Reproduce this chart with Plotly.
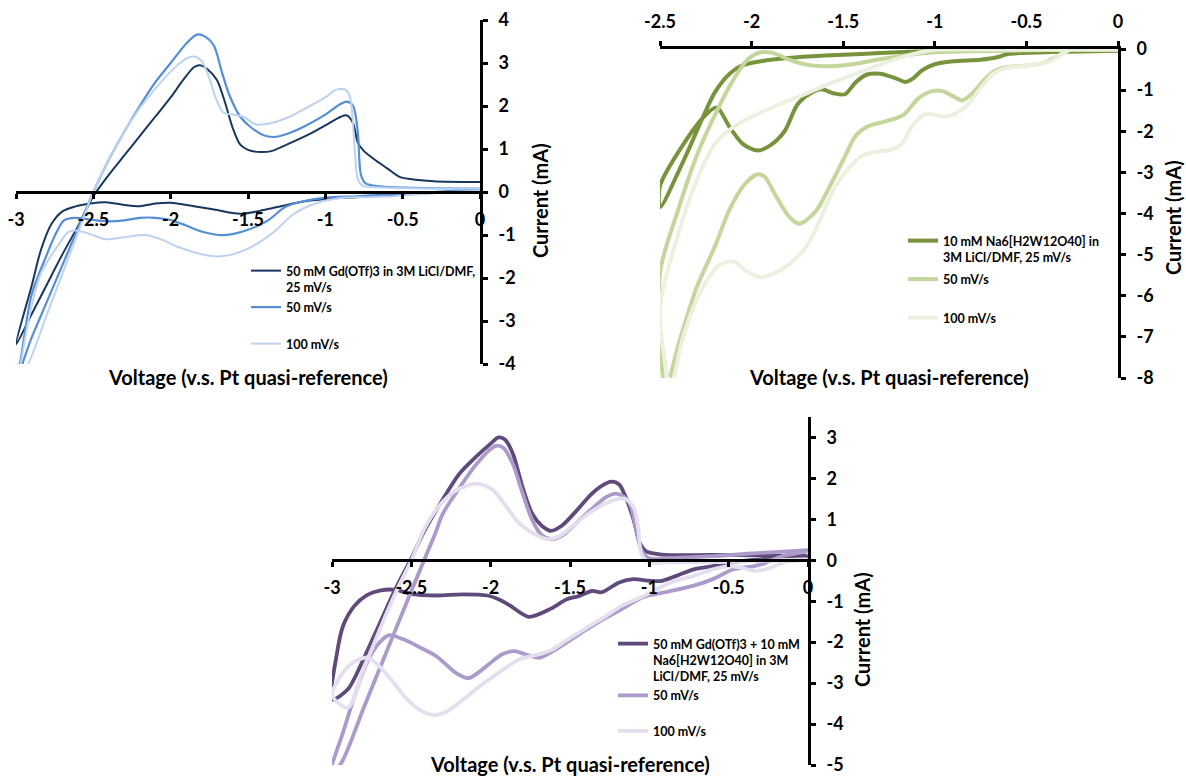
import plotly.graph_objects as go

# ---------------- Panel 1: 50 mM Gd(OTf)3 in 3M LiCl/DMF ----------------
gd25_v = [0.0, -0.2, -0.4, -0.6, -0.8, -0.95, -1.1, -1.25, -1.4, -1.52, -1.6, -1.7, -1.85, -2.0, -2.1, -2.2, -2.3, -2.42, -2.52, -2.62, -2.7, -2.77, -2.84, -2.9, -3.0,
          -2.9, -2.8, -2.7, -2.6, -2.5, -2.4, -2.3, -2.2, -2.1, -2.0, -1.92, -1.85, -1.81, -1.76, -1.7, -1.65, -1.6, -1.55, -1.5, -1.42, -1.35, -1.25, -1.1, -1.0, -0.9, -0.86, -0.82, -0.79, -0.75, -0.68, -0.6, -0.52, -0.45, -0.3, 0.0]
gd25_i = [0.0, -0.01, -0.04, -0.08, -0.12, -0.15, -0.2, -0.3, -0.42, -0.5, -0.49, -0.42, -0.33, -0.25, -0.27, -0.33, -0.3, -0.24, -0.27, -0.34, -0.45, -0.74, -1.36, -2.2, -3.55,
          -2.85, -2.15, -1.45, -0.8, -0.1, 0.4, 0.85, 1.3, 1.75, 2.2, 2.6, 2.9, 2.95, 2.85, 2.6, 2.1, 1.5, 1.1, 0.98, 0.93, 0.95, 1.1, 1.35, 1.55, 1.75, 1.78, 1.6, 1.15, 0.95, 0.75, 0.55, 0.35, 0.3, 0.25, 0.23]

gd50_v = [0.0, -0.2, -0.4, -0.6, -0.8, -1.0, -1.15, -1.26, -1.37, -1.5, -1.6, -1.69, -1.8, -1.9, -2.0, -2.1, -2.2, -2.3, -2.42, -2.52, -2.62, -2.69, -2.74, -2.8, -2.9, -2.97, -3.0,
          -2.9, -2.8, -2.7, -2.6, -2.5, -2.4, -2.3, -2.2, -2.1, -2.0, -1.9, -1.83, -1.78, -1.72, -1.67, -1.62, -1.55, -1.48, -1.4, -1.33, -1.25, -1.14, -1.0, -0.9, -0.86, -0.82, -0.79, -0.77, -0.74, -0.65, -0.5, 0.0]
gd50_i = [0.05, 0.02, -0.02, -0.06, -0.1, -0.13, -0.22, -0.35, -0.66, -0.88, -0.98, -1.0, -0.92, -0.78, -0.65, -0.6, -0.6, -0.66, -0.68, -0.64, -0.6, -0.66, -0.95, -1.45, -2.4, -3.9, -4.4,
          -3.4, -2.55, -1.7, -0.85, 0.0, 0.75, 1.4, 2.0, 2.55, 3.0, 3.45, 3.66, 3.62, 3.4, 2.8, 2.25, 1.75, 1.5, 1.32, 1.28, 1.35, 1.52, 1.8, 2.05, 2.1, 2.0, 1.4, 0.4, 0.2, 0.13, 0.1, 0.08]

gd100_v = [0.0, -0.2, -0.4, -0.56, -0.75, -0.9, -1.05, -1.2, -1.34, -1.48, -1.6, -1.69, -1.8, -1.95, -2.05, -2.16, -2.3, -2.42, -2.52, -2.6, -2.66, -2.72, -2.84, -2.92, -2.97, -3.0,
           -2.92, -2.8, -2.7, -2.6, -2.5, -2.4, -2.3, -2.2, -2.1, -2.0, -1.9, -1.85, -1.8, -1.75, -1.71, -1.66, -1.6, -1.53, -1.45, -1.38, -1.25, -1.1, -1.0, -0.93, -0.87, -0.84, -0.81, -0.79, -0.76, -0.6, 0.0]
gd100_i = [0.03, 0.0, -0.05, -0.1, -0.12, -0.14, -0.25, -0.5, -0.95, -1.28, -1.45, -1.5, -1.45, -1.28, -1.12, -1.0, -1.05, -1.1, -0.98, -0.9, -0.93, -1.2, -1.9, -3.0, -4.0, -4.5,
           -4.0, -2.85, -1.9, -0.95, 0.0, 0.75, 1.4, 1.95, 2.4, 2.8, 3.1, 3.15, 3.05, 2.65, 2.2, 1.85, 1.8, 1.75, 1.57, 1.58, 1.72, 2.0, 2.2, 2.38, 2.38, 2.2, 1.0, 0.3, 0.15, 0.1, 0.08]

# ---------------- Panel 2: 10 mM Na6[H2W12O40] in 3M LiCl/DMF ----------------
pw25_v = [0.0, -0.2, -0.4, -0.6, -0.66, -0.75, -0.9, -1.0, -1.07, -1.12, -1.16, -1.22, -1.3, -1.37, -1.43, -1.49, -1.55, -1.62, -1.68, -1.75, -1.82, -1.9, -1.97, -2.05, -2.12, -2.19, -2.25, -2.37, -2.5,
          -2.5, -2.37, -2.27, -2.2, -2.12, -2.05, -1.95, -1.8, -1.6, -1.4, -1.2, -1.0, -0.6, 0.0]
pw25_i = [-0.04, -0.06, -0.08, -0.12, -0.2, -0.26, -0.3, -0.37, -0.52, -0.72, -0.8, -0.7, -0.6, -0.62, -0.8, -1.1, -1.08, -0.98, -1.08, -1.35, -2.0, -2.35, -2.47, -2.3, -1.9, -1.42, -1.6, -2.3, -3.33,
          -3.85, -2.7, -1.7, -1.05, -0.6, -0.4, -0.3, -0.22, -0.16, -0.12, -0.08, -0.05, -0.03, -0.02]

pw50_v = [0.0, -0.25, -0.32, -0.4, -0.5, -0.62, -0.68, -0.74, -0.8, -0.85, -0.9, -0.96, -1.02, -1.09, -1.17, -1.27, -1.36, -1.43, -1.5, -1.58, -1.65, -1.74, -1.8, -1.87, -1.93, -1.97, -2.04, -2.12, -2.2, -2.3, -2.4, -2.47,
          -2.5, -2.4, -2.3, -2.2, -2.1, -2.02, -1.95, -1.88, -1.8, -1.7, -1.6, -1.45, -1.3, -1.15, -1.0, -0.7, -0.3, 0.0]
pw50_i = [-0.02, 0.0, -0.15, -0.33, -0.4, -0.45, -0.55, -0.8, -1.1, -1.25, -1.15, -1.02, -1.03, -1.2, -1.6, -1.76, -1.87, -2.1, -2.7, -3.4, -3.95, -4.25, -4.05, -3.55, -3.1, -3.05, -3.3, -3.9, -4.8, -5.8, -7.2, -8.3,
          -5.45, -3.9, -2.6, -1.6, -0.75, -0.25, -0.08, -0.1, -0.25, -0.38, -0.42, -0.37, -0.25, -0.15, -0.08, -0.05, -0.02, -0.02]

pw100_v = [0.0, -0.26, -0.32, -0.37, -0.5, -0.62, -0.68, -0.75, -0.82, -0.88, -0.94, -1.0, -1.05, -1.12, -1.18, -1.24, -1.32, -1.4, -1.47, -1.55, -1.62, -1.7, -1.8, -1.9, -1.95, -2.03, -2.09, -2.15, -2.2, -2.3, -2.38, -2.44,
           -2.5, -2.4, -2.3, -2.2, -2.1, -2.0, -1.85, -1.7, -1.55, -1.4, -1.25, -1.1, -1.0, -0.5, 0.0]
pw100_i = [-0.02, -0.02, -0.15, -0.3, -0.4, -0.47, -0.6, -0.95, -1.35, -1.55, -1.65, -1.6, -1.58, -1.85, -2.3, -2.45, -2.5, -2.6, -2.9, -3.4, -4.1, -4.8, -5.25, -5.5, -5.55, -5.4, -5.18, -5.2, -5.35, -6.1, -7.1, -8.2,
           -6.3, -4.5, -3.2, -2.3, -1.9, -1.65, -1.35, -1.08, -0.8, -0.55, -0.3, -0.1, -0.02, -0.02, -0.01]

# ---------------- Panel 3: 50 mM Gd(OTf)3 + 10 mM Na6[H2W12O40] ----------------
mix25_v = [0.0, -0.2, -0.38, -0.5, -0.6, -0.72, -0.83, -0.92, -1.0, -1.1, -1.19, -1.3, -1.36, -1.45, -1.52, -1.62, -1.76, -1.88, -1.95, -2.02, -2.18, -2.34, -2.5, -2.6, -2.7, -2.78, -2.86, -2.93, -2.97, -3.0,
           -2.9, -2.8, -2.7, -2.6, -2.5, -2.42, -2.3, -2.2, -2.1, -2.0, -1.95, -1.91, -1.86, -1.8, -1.74, -1.68, -1.62, -1.55, -1.45, -1.37, -1.3, -1.24, -1.19, -1.15, -1.1, -1.06, -1.02, -0.92, -0.6, -0.3, 0.0]
mix25_i = [0.1, 0.05, 0.0, -0.06, -0.14, -0.22, -0.38, -0.5, -0.5, -0.46, -0.54, -0.78, -0.75, -0.88, -0.95, -1.18, -1.38, -1.1, -0.95, -0.86, -0.83, -0.86, -0.82, -0.72, -0.74, -0.85, -1.12, -1.6, -2.3, -3.4,
           -3.15, -2.4, -1.55, -0.7, 0.05, 0.7, 1.5, 2.1, 2.5, 2.85, 3.0, 2.95, 2.6, 1.8, 1.15, 0.85, 0.72, 0.85, 1.25, 1.6, 1.82, 1.92, 1.85, 1.55, 1.0, 0.42, 0.22, 0.14, 0.13, 0.12, 0.1]

mix50_v = [0.0, -0.16, -0.28, -0.34, -0.47, -0.6, -0.72, -0.9, -1.04, -1.17, -1.28, -1.4, -1.51, -1.6, -1.69, -1.78, -1.85, -1.93, -2.0, -2.07, -2.14, -2.22, -2.34, -2.45, -2.55, -2.64, -2.71, -2.78, -2.86, -2.93, -3.0,
           -2.95, -2.8, -2.7, -2.6, -2.5, -2.42, -2.35, -2.3, -2.2, -2.1, -2.0, -1.96, -1.92, -1.86, -1.8, -1.74, -1.68, -1.62, -1.55, -1.45, -1.35, -1.27, -1.21, -1.16, -1.12, -1.08, -1.05, -1.0, -0.9, -0.6, -0.3, 0.0]
mix50_i = [0.22, 0.1, -0.08, -0.14, -0.22, -0.46, -0.62, -0.78, -0.9, -1.18, -1.42, -1.7, -1.98, -2.2, -2.38, -2.3, -2.22, -2.3, -2.5, -2.72, -2.88, -2.75, -2.35, -2.12, -1.93, -1.83, -2.05, -2.5, -3.34, -4.2, -5.1,
           -5.0, -3.6, -2.65, -1.7, -0.75, 0.0, 0.65, 1.15, 1.75, 2.3, 2.72, 2.8, 2.75, 2.35, 1.65, 1.0, 0.62, 0.52, 0.6, 0.95, 1.3, 1.55, 1.63, 1.55, 1.35, 0.7, 0.25, 0.05, 0.05, 0.1, 0.18, 0.25]

mix100_v = [0.0, -0.15, -0.25, -0.34, -0.42, -0.5, -0.6, -0.72, -0.85, -0.95, -1.05, -1.17, -1.28, -1.4, -1.52, -1.62, -1.72, -1.82, -1.95, -2.05, -2.18, -2.28, -2.36, -2.45, -2.54, -2.62, -2.7, -2.77, -2.83, -2.9, -2.95, -3.0,
            -2.9, -2.8, -2.7, -2.6, -2.5, -2.42, -2.32, -2.22, -2.1, -2.04, -1.98, -1.9, -1.82, -1.75, -1.65, -1.57, -1.48, -1.38, -1.28, -1.2, -1.15, -1.1, -1.07, -1.05, -1.0, -0.9, -0.5, -0.2, 0.0]
mix100_i = [0.02, -0.05, -0.2, -0.26, -0.18, -0.14, -0.22, -0.38, -0.52, -0.7, -0.9, -1.1, -1.38, -1.66, -1.95, -2.2, -2.32, -2.42, -2.75, -3.02, -3.42, -3.7, -3.78, -3.65, -3.34, -2.95, -2.6, -2.38, -2.42, -2.6, -2.85, -3.3,
            -3.6, -2.65, -1.7, -0.8, 0.0, 0.75, 1.35, 1.7, 1.87, 1.83, 1.7, 1.3, 0.9, 0.7, 0.52, 0.58, 0.85, 1.15, 1.38, 1.5, 1.5, 1.3, 0.8, 0.15, -0.05, -0.05, -0.04, 0.0, 0.02]

# ---------------- Labels ----------------
names_p1 = ["50 mM Gd(OTf)3 in 3M LiCl/DMF,<br>25 mV/s", "50 mV/s<br> ", "100 mV/s"]
names_p2 = ["10 mM Na6[H2W12O40] in<br>3M LiCl/DMF, 25 mV/s", "50 mV/s<br> ", "100 mV/s"]
names_p3 = ["50 mM Gd(OTf)3 + 10 mM<br>Na6[H2W12O40] in 3M<br>LiCl/DMF, 25 mV/s", "50 mV/s<br> ", "100 mV/s"]
xtick_p13 = [-3, -2.5, -2, -1.5, -1, -0.5, 0]
xtick_p2 = [-2.5, -2, -1.5, -1, -0.5, 0]
ytick_p1 = [-4, -3, -2, -1, 0, 1, 2, 3, 4]
ytick_p2 = [-8, -7, -6, -5, -4, -3, -2, -1, 0]
ytick_p3 = [-5, -4, -3, -2, -1, 0, 1, 2, 3]
x_title = "Voltage (v.s. Pt quasi-reference)"
y_title = "Current (mA)"

def lbl(vals):
    return [("%g" % v) for v in vals]

W, H = 1186, 776
def px(x):
    return x / W
def py(y):
    return 1 - y / H

FONT = "Lato"
fig = go.Figure()

series = [
    ("x", "y", "legend", "p1", names_p1, [(gd25_v, gd25_i), (gd50_v, gd50_i), (gd100_v, gd100_i)],
     ["#17375E", "#558ED5", "#BCD2EE"], [2, 2.2, 2]),
    ("x2", "y2", "legend2", "p2", names_p2, [(pw25_v, pw25_i), (pw50_v, pw50_i), (pw100_v, pw100_i)],
     ["#77933C", "#C3D69B", "#EBF1DE"], [4, 4, 4]),
    ("x3", "y3", "legend3", "p3", names_p3, [(mix25_v, mix25_i), (mix50_v, mix50_i), (mix100_v, mix100_i)],
     ["#604A7B", "#AB9ACA", "#E4DEEE"], [3.8, 3.8, 3.8]),
]
for xa, ya, lg, tag, names, data, colors, widths in series:
    for k, ((v, i), nm, c, w) in enumerate(zip(data, names, colors, widths)):
        fig.add_trace(go.Scatter(x=v, y=i, mode="lines", name=nm, xaxis=xa, yaxis=ya, legend=lg,
                                 legendgroup=f"{tag}_{k}",
                                 line=dict(color=c, width=w, shape="spline", smoothing=0.8)))

tickfont = dict(family=FONT, size=18, color="black", weight="bold")
common_axis = dict(showgrid=False, zeroline=False, showline=True, linecolor="black", linewidth=3,
                   ticks="outside", ticklen=5, tickwidth=3, tickcolor="black", tickfont=tickfont,
                   automargin=False, fixedrange=True)

fig.update_layout(
    template="none",
    width=W, height=H, autosize=False,
    margin=dict(l=0, r=0, t=0, b=0, pad=0),
    paper_bgcolor="white", plot_bgcolor="white",
    showlegend=True,
    xaxis=dict(domain=[px(16), px(480)], range=[-3, 0], anchor="free", position=py(192),
               tickvals=xtick_p13, ticktext=lbl(xtick_p13), ticklabelstandoff=5, **common_axis),
    yaxis=dict(domain=[py(364), py(20)], range=[-4, 4], anchor="x", side="right",
               tickvals=ytick_p1, ticktext=lbl(ytick_p1), ticklabelstandoff=7, **common_axis),
    xaxis2=dict(domain=[px(660), px(1118)], range=[-2.5, 0], anchor="y2", side="top",
                tickvals=xtick_p2, ticktext=lbl(xtick_p2), ticklabelstandoff=6, **common_axis),
    yaxis2=dict(domain=[py(378), py(49)], range=[-8, 0], anchor="x2", side="right",
                tickvals=ytick_p2, ticktext=lbl(ytick_p2), ticklabelstandoff=7, **common_axis),
    xaxis3=dict(domain=[px(332), px(808)], range=[-3, 0], anchor="free", position=py(560),
                tickvals=xtick_p13, ticktext=lbl(xtick_p13), ticklabelstandoff=5, **common_axis),
    yaxis3=dict(domain=[py(765), py(417)], range=[-5, 3.5], anchor="x3", side="right",
                tickvals=ytick_p3, ticktext=lbl(ytick_p3), ticklabelstandoff=7, **common_axis),
)

legfont = dict(family=FONT, size=12.5, color="black", weight="bold")
leg_common = dict(font=legfont, bgcolor="rgba(0,0,0,0)", valign="top", traceorder="grouped",
                  xanchor="left", yanchor="top", itemclick=False, itemdoubleclick=False)
fig.update_layout(
    legend=dict(x=px(246), y=py(256), tracegroupgap=1, **leg_common),
    legend2=dict(x=px(903), y=py(226), tracegroupgap=3, **leg_common),
    legend3=dict(x=px(613), y=py(629), tracegroupgap=0, **leg_common),
)

titlefont = dict(family=FONT, size=20, color="black", weight="bold")
ann = [
    (248, 377, 0, x_title), (540, 201, -90, y_title),
    (889, 377, 0, x_title), (1173, 218, -90, y_title),
    (570, 764, 0, x_title), (862, 630, -90, y_title),
]
for x, y, rot, t in ann:
    fig.add_annotation(x=px(x), y=py(y), xref="paper", yref="paper", text=t, showarrow=False,
                       textangle=rot, font=titlefont, xanchor="center", yanchor="middle")

fig.write_html("out.html", config={"displayModeBar": False},
               post_script="document.body.style.margin='0';document.body.style.overflow='hidden';")
